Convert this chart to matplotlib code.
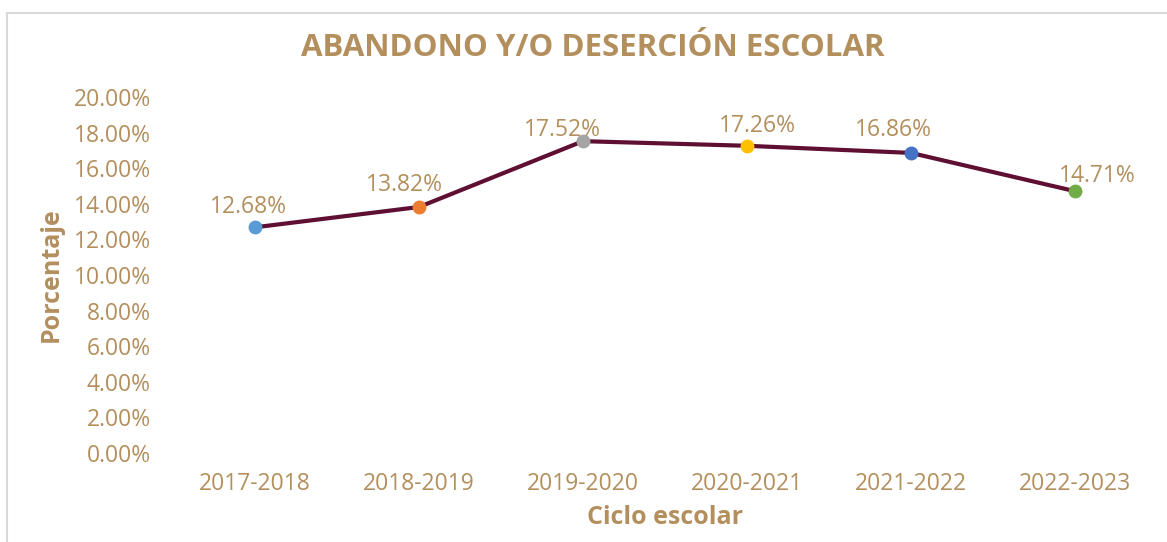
import matplotlib.pyplot as plt
from matplotlib.lines import Line2D

ciclos = ['2017-2018', '2018-2019', '2019-2020', '2020-2021', '2021-2022', '2022-2023']
porcentaje = [12.68, 13.82, 17.52, 17.26, 16.86, 14.71]
colores = ['#5B9BD5', '#ED7D31', '#A5A5A5', '#FFC000', '#4472C4', '#70AD47']
yticks = [0, 2, 4, 6, 8, 10, 12, 14, 16, 18, 20]

oro = '#B38F5E'
vino = '#5E0F32'
plt.rcParams['font.family'] = ['Open Sans', 'DejaVu Sans']

# label offsets (px) relative to each marker
dx = [-7, -15, -21, 10, -18, 22]
dy = [20, 22, 11, 20, 23, 15]

fig = plt.figure(figsize=(11.67, 5.42), dpi=100)
ax = fig.add_axes([0.1482, 0.1642, 0.8432, 0.6568])

x = list(range(len(ciclos)))
ax.plot(x, porcentaje, color=vino, lw=3, zorder=2)
for i in x:
    ax.plot(i, porcentaje[i], 'o', color=colores[i], ms=9, zorder=3)
    ax.annotate('%.2f%%' % porcentaje[i], (i, porcentaje[i]),
                xytext=(dx[i] * 0.72, dy[i] * 0.72), textcoords='offset points',
                ha='center', va='center', color=oro, fontsize=16.5)

ax.set_xlim(-0.5, 5.5)
ax.set_ylim(0, 20)
ax.set_xticks(x)
ax.set_xticklabels(ciclos)
ax.set_yticks(yticks)
ax.set_yticklabels(['%.2f%%' % v for v in yticks])
ax.tick_params(length=0, colors=oro, labelsize=16.5)
ax.tick_params(axis='x', pad=14)
ax.tick_params(axis='y', pad=16)
for s in ax.spines.values():
    s.set_visible(False)

ax.set_ylabel('Porcentaje', color=oro, fontsize=18, fontweight='bold', labelpad=7)
ax.set_xlabel('Ciclo escolar', color=oro, fontsize=18, fontweight='bold', labelpad=6)
fig.text(0.508, 0.912, 'ABANDONO Y/O DESERCIÓN ESCOLAR', ha='center', va='center',
         color=oro, fontsize=22.5, fontweight='bold')

# chart frame
fig.add_artist(Line2D([6.5 / 1167, 6.5 / 1167], [0, 1 - 12.5 / 542], color='#D9D9D9', lw=1.5))
fig.add_artist(Line2D([6.5 / 1167, 1], [1 - 12.5 / 542, 1 - 12.5 / 542], color='#D9D9D9', lw=1.5))

fig.savefig('out.png', dpi=100)
